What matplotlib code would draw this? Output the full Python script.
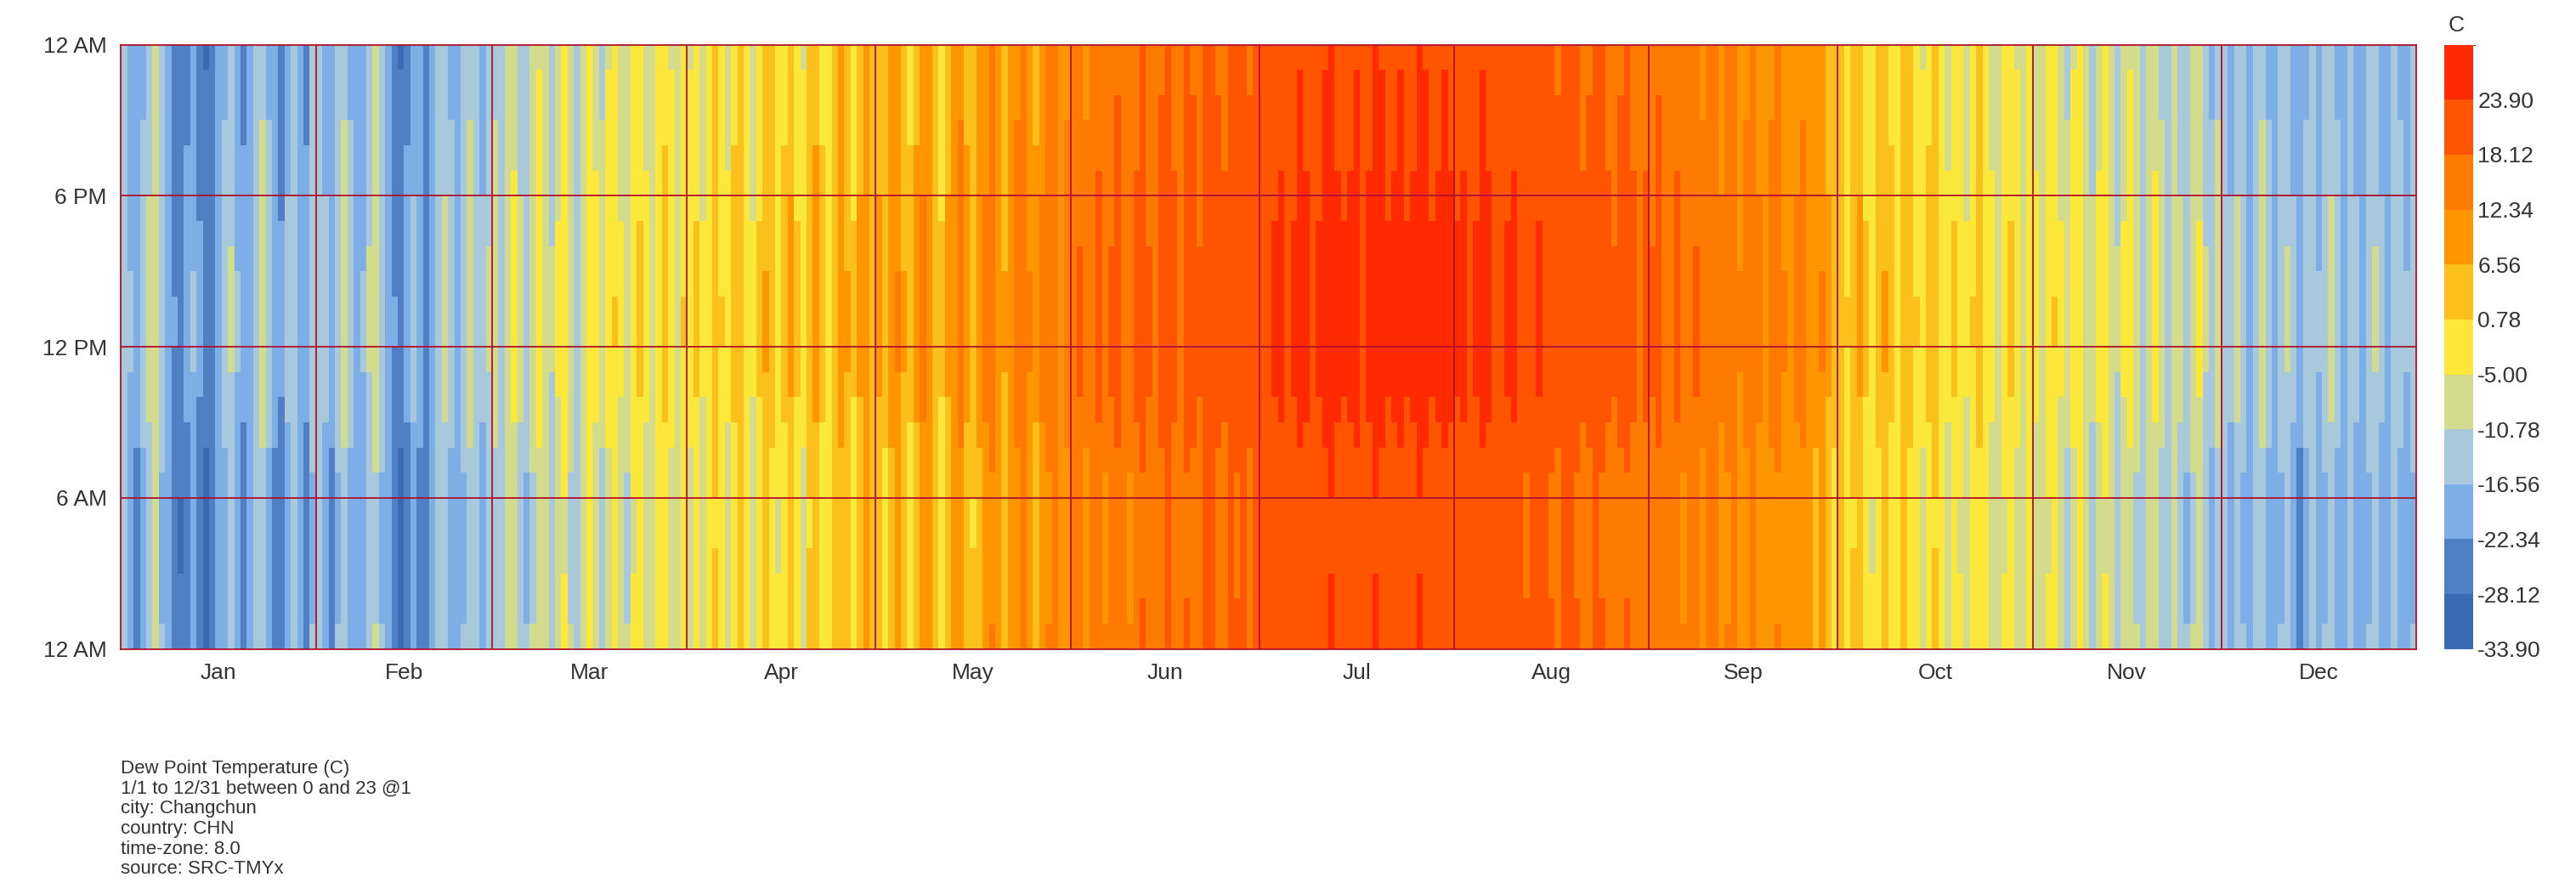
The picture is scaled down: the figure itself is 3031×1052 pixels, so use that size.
import numpy as np
import matplotlib.pyplot as plt
from matplotlib.colors import ListedColormap, BoundaryNorm

plt.rcParams['font.family'] = ['Liberation Sans', 'DejaVu Sans']

months = ['Jan', 'Feb', 'Mar', 'Apr', 'May', 'Jun', 'Jul', 'Aug', 'Sep', 'Oct', 'Nov', 'Dec']

# daily mean dew point (C)
jan = [-14,-18,-21,-16,-11,-8,-15,-20,-24,-26,-22,-18,-23,-27,-25,-20,-16,-12,-18,-22,-19,-14,-10,-16,-21,-23,-17,-13,-19,-22,-15]
feb = [-13,-17,-21,-15,-10,-16,-20,-18,-12,-9,-15,-19,-24,-27,-22,-17,-21,-25,-19,-14,-11,-16,-20,-15,-10,-13,-17,-12]
mar = [-10,-14,-8,-5,-11,-15,-9,-4,-7,-12,-6,-3,-9,-13,-7,-2,-5,-10,-4,-1,-6,-9,-3,0,-5,-8,-2,1,-4,-7,-1]
apr = [-4,0,-6,-2,3,-1,-5,1,4,-2,-6,0,5,2,-3,1,6,0,-4,3,7,1,-2,4,8,5,0,6,9,4]
may = [6,2,8,11,5,1,7,12,9,4,0,6,10,13,7,3,8,12,14,9,5,10,13,15,11,7,12,14,16,10,13]
jun = [15,17,13,16,18,14,17,19,16,14,18,20,17,15,19,21,18,16,20,19,17,21,22,19,18,21,20,22,19,21]
jul = [21,22,23,24,22,23,25,24,22,23,25,26,24,23,24,25,22,24,26,25,23,24,25,23,24,26,25,23,24,25,24]
aug = [23,24,22,23,25,24,22,21,23,24,22,20,21,23,22,20,19,21,22,20,18,19,21,20,18,17,19,20,18,16,18]
sep = [17,19,16,15,18,14,16,17,13,15,16,12,14,15,11,13,15,12,10,13,14,11,9,12,13,10,8,11,6,2]
oct_ = [4,-1,3,6,0,-3,2,5,1,-2,4,2,-1,-4,1,3,-2,-5,0,-3,-6,-1,2,-2,-5,-7,-3,0,-4,-7,-2]
nov = [-5,-8,-3,-1,-6,-10,-4,-2,-7,-11,-5,-3,-8,-12,-6,-4,-9,-13,-7,-5,-10,-14,-8,-11,-15,-9,-6,-12,-16,-10]
dec = [-13,-17,-11,-15,-19,-14,-10,-16,-20,-15,-12,-17,-21,-16,-13,-18,-15,-11,-16,-19,-14,-17,-20,-15,-12,-17,-19,-14,-16,-18,-15]

# hour-of-day shift (C)
hour_shift = [-1.5,-1.8,-2,-2.2,-2.3,-2.3,-2,-1.5,-0.5,0.5,1.2,1.6,1.8,1.8,1.6,1.3,1,0.6,0.2,-0.2,-0.5,-0.8,-1,-1.2]

levels = [-33.90, -28.12, -22.34, -16.56, -10.78, -5.00, 0.78, 6.56, 12.34, 18.12, 23.90, 29.68]
colors = ['#3a6bb0', '#4f80c4', '#7eaee6', '#a8c8dc', '#d3dc8c', '#fbe83a',
          '#fbc01c', '#ff9500', '#ff7a00', '#ff5400', '#ff2a00']

all_months = [jan, feb, mar, apr, may, jun, jul, aug, sep, oct_, nov, dec]
daily = np.concatenate([np.array(m, float) for m in all_months])
grid = daily[None, :] + np.array(hour_shift)[:, None]
month_len = [len(m) for m in all_months]
edges = np.concatenate([[0], np.cumsum(month_len)])

cmap = ListedColormap(colors)
norm = BoundaryNorm(levels, cmap.N)

fig = plt.figure(figsize=(30.31, 10.52), dpi=100)
ax = fig.add_axes([0.047, 0.274, 0.891, 0.676])
ax.pcolormesh(np.arange(len(daily) + 1), np.arange(25), grid, cmap=cmap, norm=norm)
ax.set_xlim(0, len(daily))
ax.set_ylim(0, 24)
line_col = '#b0102a'
for e in edges[1:-1]:
    ax.axvline(e, color=line_col, lw=1.3)
for h in [6, 12, 18]:
    ax.axhline(h, color=line_col, lw=1.3)
for s in ax.spines.values():
    s.set_color(line_col)
    s.set_linewidth(1.3)
ax.set_xticks((edges[:-1] + edges[1:]) / 2)
ax.set_xticklabels(months, fontsize=19, color='#333333')
ax.set_yticks([0, 6, 12, 18, 24])
ax.set_yticklabels(['12 AM', '6 AM', '12 PM', '6 PM', '12 AM'], fontsize=19, color='#333333')
ax.tick_params(length=0, pad=12)

cax = fig.add_axes([0.949, 0.274, 0.011, 0.676])
cb = fig.colorbar(plt.cm.ScalarMappable(norm=norm, cmap=cmap), cax=cax, ticks=levels[:-1])
cb.ax.set_yticklabels([f'{v:.2f}' for v in levels[:-1]], fontsize=19, color='#333333')
cb.ax.tick_params(length=0, pad=4)
cb.outline.set_visible(False)
fig.text(0.9505, 0.965, 'C', fontsize=19, color='#333333')

footer = ['Dew Point Temperature (C)', '1/1 to 12/31 between 0 and 23 @1', 'city: Changchun',
          'country: CHN', 'time-zone: 8.0', 'source: SRC-TMYx']
for i, t in enumerate(footer):
    fig.text(0.047, 0.135 - i * 0.0225, t, fontsize=16, color='#333333')

fig.savefig('out.png')
